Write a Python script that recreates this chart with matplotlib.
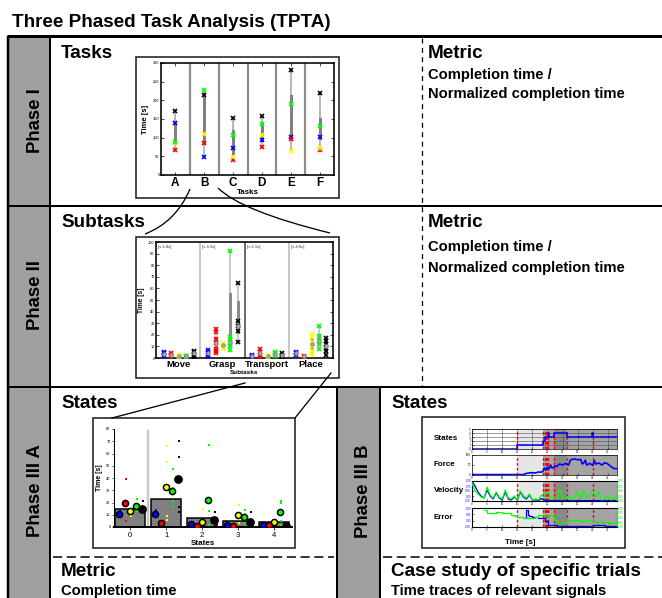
import matplotlib
matplotlib.use('Agg')
import matplotlib.pyplot as plt
from matplotlib.patches import Rectangle, PathPatch
from matplotlib.path import Path
import numpy as np

plt.rcParams['font.family'] = ['Liberation Sans', 'DejaVu Sans']

# ---------------- data ----------------
participant_colors = ['#0000ff', '#ff0000', '#ffff00', '#00ff00', '#000000']

# Phase I : tasks
tasks = ['A', 'B', 'C', 'D', 'E', 'F']
p1_blue = [140, 49, 73, 93, 102, 101]
p1_red = [68, 87, 40, 75, 96, 68]
p1_yellow = [85, 110, 48, 107, 63, 73]
p1_green = [88, 228, 107, 137, 190, 130]
p1_black = [172, 215, 153, 158, 282, 220]
p1_box_lo = [88, 87, 60, 93, 100, 100]
p1_box_hi = [140, 215, 118, 137, 212, 150]

# Phase II : subtasks (per participant: blue, red, yellow, green, black)
subtasks = ['Move', 'Grasp', 'Transport', 'Place']
subtask_means = ['[\u2248 1.8s]', '[\u2248 4.3s]', '[\u2248 5.1s]', '[\u2248 4.6s]']
move_times = [[2, 3, 4, 5], [2, 3, 4], [1, 2, 3], [1, 1.5, 2], [1, 3, 5, 6]]
grasp_times = [[1, 3, 5, 7], [4, 6, 8, 13, 16, 22, 25], [8, 10, 12, 13],
               [7, 10, 12, 16, 18, 92], [14, 23, 28, 32, 65]]
transport_times = [[1, 2, 3], [1, 3, 5, 8], [1, 2, 3], [2, 3, 4, 5], [1, 2, 3, 4]]
place_times = [[3, 4, 5], [1, 2], [3, 6, 10, 14, 18, 21], [8, 12, 15, 19, 28],
               [3, 6, 9, 12, 15, 17]]
move_box = [(2.5, 4.5), (2.5, 3.5), (1.5, 2.5), (1, 2), (2, 5)]
grasp_box = [(2, 6), (7, 17), (9, 12), (15, 55), (22, 48)]
transport_box = [(1.5, 2.5), (2, 6), (1.5, 2.5), (2.5, 4.5), (1.5, 3.5)]
place_box = [(3.5, 4.5), (1, 2), (6, 16), (12, 20), (6, 14)]

# Phase III A : states
states = [0, 1, 2, 3, 4]
state_bar = [15, 23, 7, 5, 4]
state_blue = [11, 11, 2.5, 2, 1.5]
state_red = [20, 3, 1, 1, 1.5]
state_yellow = [13, 33, 4, 10, 4]
state_green = [17, 29, 22, 8, 12]
state_black = [15, 39, 6, 4, 1]
dots_blue = [[14, 8], [14, 8], [4], [3], [2]]
dots_red = [[39, 5], [], [], [], []]
dots_yellow = [[15, 9], [66, 53, 9, 6], [15, 2], [18, 3], []]
dots_green = [[23, 13], [47, 21, 16, 32], [67, 13, 2], [14, 11, 3], [20, 21, 5, 2]]
dots_black = [[21, 12], [70, 57, 16, 12], [12, 1], [12], []]

# Phase III B : time traces of one trial
phase_edges = [0, 14.8, 23.5, 27.0, 31.5, 48]
phase_shades = ['#ffffff', '#e6e6e6', '#a8a8a8', '#8a8a8a', '#a4a4a4']
event_times = [14.8, 23.5, 24.0, 24.4, 24.8, 25.3, 27.0, 31.5, 40.0]
states_t = [0, 14.8, 23.5, 24.3, 25.0, 25.6, 27.0, 31.5, 39.8, 40.2, 48]
states_v = [0, 1, 2, 3, 4, 3, 4, 3, 4, 3, 3]
force_t = [0, 17, 18, 19, 20, 21, 22, 23, 23.5, 24, 24.5, 25, 25.5, 26, 26.5, 27,
           27.5, 28, 29, 30, 31, 32, 32.5, 33, 34, 35, 36, 36.5, 37, 37.5, 38, 39,
           40, 40.5, 41, 42, 43, 44, 45, 46, 47, 48]
force_v = [0.02, 0.02, 0.08, 0.1, 0.12, 0.1, 0.15, 0.14, 0.2, 0.35, 0.25, 0.4, 0.3,
           0.5, 0.35, 0.38, 0.45, 0.42, 0.55, 0.5, 0.58, 0.5, 0.72, 0.78, 0.8, 0.76,
           0.78, 0.55, 0.6, 0.74, 0.5, 0.58, 0.48, 0.72, 0.55, 0.6, 0.5, 0.62, 0.55,
           0.42, 0.32, 0.32]
vel_t = list(range(0, 49))
vel_blue = [1.0, 0.75, 0.45, 0.25, 0.15, 0.55, 0.25, 0.1, 0.4, 0.15, 0.05, 0.45,
            0.1, 0.05, 0.2, 0.05, 0.45, 0.2, 0.1, 0.3, 0.05, 0.05, 0.02, 0.12, 0.05,
            0.02, 0.02, 0.02, 0.02, 0.02, 0.02, 0.02, 0.02, 0.02, 0.02, 0.02, 0.02,
            0.02, 0.02, 0.02, 0.02, 0.02, 0.02, 0.02, 0.02, 0.02, 0.02, 0.02, 0.02]
vel_green = [0.9, 0.5, 0.35, 0.2, 0.15, 0.7, 0.3, 0.15, 0.45, 0.2, 0.1, 0.55, 0.15,
             0.1, 0.25, 0.05, 0.5, 0.25, 0.15, 0.35, 0.05, 0.1, 0.05, 0.3, 0.2, 0.5,
             0.15, 0.1, 0.2, 0.6, 0.1, 0.15, 0.25, 0.05, 0.2, 0.45, 0.1, 0.55, 0.15,
             0.3, 0.5, 0.2, 0.45, 0.05, 0.1, 0.3, 0.05, 0.15, 0.05]
err_green_t = [4, 5, 6, 8, 10, 12, 13, 14, 15, 17, 19, 21, 22, 23, 24, 25, 26, 27,
               28, 30, 31.5, 33, 35, 38, 40, 42, 45, 48]
err_green = [0.9, 0.72, 0.72, 0.78, 0.75, 0.72, 0.65, 0.6, 0.52, 0.5, 0.5, 0.55,
             0.65, 0.65, 0.58, 0.62, 0.6, 0.35, 0.25, 0.25, 0.35, 0.35, 0.33, 0.35,
             0.25, 0.25, 0.22, 0.22]
err_blue_t = [17.5, 18, 18.5, 19, 20, 21, 22, 23, 24, 25, 26, 28, 32, 40, 44, 48]
err_blue = [0.5, 0.88, 0.65, 0.6, 0.55, 0.55, 0.5, 0.48, 0.3, 0.12, 0.08, 0.06,
            0.05, 0.08, 0.05, 0.05]

# ---------------- figure ----------------
W, H = 662, 598
fig = plt.figure(figsize=(W / 100, H / 100), dpi=100)
bg = fig.add_axes([0, 0, 1, 1])
bg.set_xlim(0, W)
bg.set_ylim(H, 0)
bg.axis('off')


def lw(p):
    return p * 0.72


def rect(x0, y0, x1, y1):
    return [x0 / W, 1 - y1 / H, (x1 - x0) / W, (y1 - y0) / H]


# frame
bg.add_patch(Rectangle((8, 36), 42, H - 36, fc='#a0a0a0', ec='none', zorder=1))
bg.add_patch(Rectangle((337, 387), 43, H - 387, fc='#a0a0a0', ec='none', zorder=1))
k = dict(color='black', solid_capstyle='butt', zorder=3)
bg.plot([7, W], [36, 36], lw=lw(3), **k)
bg.plot([8, 8], [36, H], lw=lw(2.5), **k)
bg.plot([50, 50], [36, H], lw=lw(2), **k)
bg.plot([8, W], [206, 206], lw=lw(2), **k)
bg.plot([8, W], [387, 387], lw=lw(2), **k)
bg.plot([337, 337], [387, H], lw=lw(2), **k)
bg.plot([380, 380], [387, H], lw=lw(2), **k)
bg.plot([422, 422], [38, 386], lw=0.9, ls=(0, (4, 3.5)), color='black', zorder=3)
bg.plot([53, 334], [557, 557], lw=1.1, ls=(0, (6, 3)), color='black', zorder=3)
bg.plot([383, W], [557, 557], lw=1.1, ls=(0, (6, 3)), color='black', zorder=3)

# texts
tb = dict(fontweight='bold', color='black', va='baseline', ha='left', zorder=5)
bg.text(12, 27, 'Three Phased Task Analysis (TPTA)', fontsize=13.6, **tb)
bg.text(61, 58, 'Tasks', fontsize=13.6, **tb)
bg.text(428, 58, 'Metric', fontsize=13.6, **tb)
bg.text(428, 79, 'Completion time /', fontsize=10.6, **tb)
bg.text(428, 98, 'Normalized completion time', fontsize=10.6, **tb)
bg.text(61, 227, 'Subtasks', fontsize=13.6, **tb)
bg.text(428, 227, 'Metric', fontsize=13.6, **tb)
bg.text(428, 251, 'Completion time /', fontsize=10.6, **tb)
bg.text(428, 272, 'Normalized completion time', fontsize=10.6, **tb)
bg.text(61, 408, 'States', fontsize=13.6, **tb)
bg.text(391, 408, 'States', fontsize=13.6, **tb)
bg.text(61, 576, 'Metric', fontsize=13.6, **tb)
bg.text(61, 595, 'Completion time', fontsize=10.6, **tb)
bg.text(391, 576, 'Case study of specific trials', fontsize=13.6, **tb)
bg.text(391, 595, 'Time traces of relevant signals', fontsize=10.6, **tb)
tr = dict(fontweight='bold', color='black', rotation=90, ha='center', va='center',
          fontsize=13.4, zorder=5)
bg.text(35, 121, 'Phase I', **tr)
bg.text(35, 295, 'Phase II', **tr)
bg.text(35, 491, 'Phase III A', **tr)
bg.text(363, 491, 'Phase III B', **tr)

# inset frames
for (x0, y0, x1, y1) in [(136, 57, 339, 198), (136, 237, 339, 378),
                         (93, 418, 295, 548), (422, 417, 625, 548)]:
    bg.add_patch(Rectangle((x0, y0), x1 - x0, y1 - y0, fc='white', ec='#222222',
                           lw=lw(1.6), zorder=2))

# connectors
for (s, c, e) in [((190, 189), (176, 222), (145, 234)),
                  ((218, 188), (241, 211), (330, 233))]:
    p = Path([s, c, e], [Path.MOVETO, Path.CURVE3, Path.CURVE3])
    bg.add_patch(PathPatch(p, fc='none', ec='black', lw=lw(1.3), zorder=4))
bg.plot([245, 112], [383, 418], color='black', lw=lw(1.3), zorder=4)
bg.plot([331, 295], [373, 418], color='black', lw=lw(1.3), zorder=4)


def style_ticks(ax, size=2.8):
    ax.tick_params(direction='in', length=2, width=0.5, labelsize=size, pad=1,
                   top=True, right=True)
    for sp in ax.spines.values():
        sp.set_linewidth(lw(1.6))


# ---------- Phase I inset ----------
a1 = fig.add_axes(rect(161, 63, 334, 175))
p1_all = [p1_blue, p1_red, p1_yellow, p1_green, p1_black]
for i in range(len(tasks)):
    vals = [s[i] for s in p1_all]
    a1.plot([i, i], [min(vals), max(vals)], color='#b8b8b8', lw=lw(2), zorder=2)
    a1.plot([i, i], [p1_box_lo[i], p1_box_hi[i]], color='#808080', lw=lw(3), zorder=2)
    for s, c in zip(p1_all, participant_colors):
        a1.plot(i, s[i], marker='x', color=c, ms=3.0, mew=1.2, zorder=3)
for i in range(len(tasks) - 1):
    a1.axvline(i + 0.5, color='#8c8c8c', lw=lw(2.2), zorder=1)
a1.set_xlim(-0.5, len(tasks) - 0.5)
a1.set_ylim(0, 300)
a1.set_yticks(range(0, 301, 50))
a1.set_xticks(range(len(tasks)))
a1.set_xticklabels(tasks, fontsize=8.5, fontweight='bold')
style_ticks(a1)
a1.tick_params(axis='x', labelsize=8.5, pad=1.5)
a1.set_xlabel('Tasks', fontsize=5.7, fontweight='bold', labelpad=0)
a1.set_ylabel('Time [s]', fontsize=5.5, fontweight='bold', labelpad=3)

# ---------- Phase II inset ----------
a2 = fig.add_axes(rect(156, 242, 333, 358))
offs2 = [0.17, 0.35, 0.52, 0.68, 0.85]
for j, (times, boxes) in enumerate([(move_times, move_box), (grasp_times, grasp_box),
                                    (transport_times, transport_box),
                                    (place_times, place_box)]):
    for p in range(5):
        x = j + offs2[p]
        v = times[p]
        a2.plot([x, x], [min(v), max(v)], color='#b8b8b8', lw=lw(1.5), zorder=2)
        a2.plot([x, x], list(boxes[p]), color='#8a8a8a', lw=lw(3), zorder=2)
        a2.plot([x] * len(v), v, ls='none', marker='x', color=participant_colors[p],
                ms=2.8, mew=1.2, zorder=3)
        a2.plot(x, np.median(v), marker='o', ms=2.6, mfc='#a8a8a8', mec='#8a8a8a',
                mew=0.6, zorder=4)
    a2.text(j + 0.05, 96, subtask_means[j], fontsize=3, va='center', ha='left',
            color='#333333')
for xs, c in [(1, '#c8c8c8'), (2, '#6e6e6e'), (3, '#c8c8c8')]:
    a2.axvline(xs, color=c, lw=lw(2), zorder=1)
a2.set_xlim(0, 4)
a2.set_ylim(0, 100)
a2.set_yticks(range(0, 101, 10))
a2.set_xticks([0.5, 1.5, 2.5, 3.5])
a2.set_xticklabels(subtasks, fontweight='bold')
style_ticks(a2)
a2.tick_params(axis='x', labelsize=6.8, pad=1.5, length=0, top=False)
a2.set_xlabel('Subtasks', fontsize=4.6, fontweight='bold', labelpad=0.5)
a2.set_ylabel('Time [s]', fontsize=4.8, fontweight='bold', labelpad=2)

# ---------- Phase III A inset ----------
a3 = fig.add_axes(rect(114, 429, 292, 527))
a3.bar(states, state_bar, width=0.84, color='#808080', edgecolor='black',
       lw=lw(1.5), zorder=2)
a3.plot([0.5, 0.5], [0, 78], color='#c8c8c8', lw=lw(2.5), zorder=1)
offs3 = [-0.3, -0.15, 0.0, 0.17, 0.33]
circ = [state_blue, state_red, state_yellow, state_green, state_black]
dots = [dots_blue, dots_red, dots_yellow, dots_green, dots_black]
for p in range(5):
    c = participant_colors[p]
    for s in states:
        x = s + offs3[p]
        d = dots[p][s]
        if d:
            a3.plot([x + 0.03] * len(d), d, ls='none', marker='s', ms=1.6, mew=0,
                    color=c, zorder=3)
        a3.errorbar(x, circ[p][s], yerr=2.5, fmt='none', ecolor=c, elinewidth=0.8,
                    zorder=4)
        a3.plot(x, circ[p][s], marker='o', ms=4.4 if p < 4 else 5.2, mfc=c,
                mec='black', mew=1.1, zorder=5)
a3.set_xlim(-0.45, 4.5)
a3.set_ylim(0, 80)
a3.set_yticks(range(0, 81, 10))
a3.set_xticks(states)
a3.spines['top'].set_visible(False)
a3.spines['right'].set_visible(False)
a3.spines['left'].set_linewidth(lw(1))
a3.spines['bottom'].set_linewidth(lw(2))
a3.tick_params(axis='y', direction='out', length=1.5, width=0.5, labelsize=2.8, pad=1)
a3.tick_params(axis='x', direction='out', length=2, width=0.5, labelsize=5.5, pad=1.5)
a3.set_xlabel('States', fontsize=5.8, fontweight='bold', labelpad=0.5)
a3.set_ylabel('Time [s]', fontsize=5, fontweight='bold', labelpad=2)

# ---------- Phase III B inset ----------
rows = [(429, 449), (455, 475), (481, 501), (508, 527)]
names = ['States', 'Force', 'Velocity', 'Error']
axs = []
for (y0, y1), nm in zip(rows, names):
    a = fig.add_axes(rect(472, y0, 617, y1))
    for k2 in range(len(phase_shades)):
        a.axvspan(phase_edges[k2], phase_edges[k2 + 1], color=phase_shades[k2],
                  lw=0, zorder=0)
    for t in event_times:
        a.axvline(t, color='#ff0000', lw=1.0, ls=(0, (2, 1.5)), zorder=3)
    a.set_xlim(0, 48)
    a.set_xticks(range(0, 46, 5))
    a.tick_params(direction='in', length=1.2, width=0.4, labelsize=2, pad=0.8)
    for sp in a.spines.values():
        sp.set_linewidth(0.5)
    bg.text(434, (y0 + y1) / 2, nm, fontsize=5.8, fontweight='bold', ha='left',
            va='center', zorder=5)
    axs.append(a)

aS, aF, aV, aE = axs
aS.step(states_t, states_v, where='post', color='#0000ff', lw=1.1, zorder=4)
aS.set_ylim(0, 5)
aS.set_yticks(range(0, 6))
aS.grid(True, color='#505050', lw=0.4)
aF.plot(force_t, force_v, color='#0000ff', lw=1.2, zorder=4)
aF.set_ylim(0, 1)
aF.set_yticks([0, 0.5, 1])
aF.set_yticklabels(['0', '50', '100'])
aV.plot(vel_t, vel_blue, color='#0000ff', lw=0.9, zorder=4)
aV.set_ylim(0, 1)
aV.set_yticks([0, 0.25, 0.5, 0.75, 1])
aV.tick_params(axis='y', colors='#0000ff')
aV2 = aV.twinx()
aV2.plot(vel_t, vel_green, color='#00ff00', lw=0.9, zorder=5)
aV2.set_ylim(0, 1)
aV2.set_yticks([0, 0.25, 0.5, 0.75, 1])
aV2.tick_params(axis='y', colors='#00cc00', direction='in', length=1.2, width=0.4,
                labelsize=2, pad=0.8)
aV2.spines['right'].set_color('#00ff00')
aE.step(err_blue_t, err_blue, where='post', color='#0000ff', lw=0.9, zorder=4)
aE.set_ylim(0, 1)
aE.set_yticks([0, 0.33, 0.66, 1])
aE.tick_params(axis='y', colors='#0000ff')
aE2 = aE.twinx()
aE2.step(err_green_t, err_green, where='post', color='#00ff00', lw=0.9, zorder=5)
aE2.set_ylim(0, 1)
aE2.set_yticks([0, 0.25, 0.5, 0.75, 1])
aE2.tick_params(axis='y', colors='#00cc00', direction='in', length=1.2, width=0.4,
                labelsize=2, pad=0.8)
aE2.spines['right'].set_color('#00ff00')
bg.text(520, 542, 'Time [s]', fontsize=5.8, fontweight='bold', ha='center',
        va='center', zorder=5)

fig.savefig('out.png', dpi=100)
